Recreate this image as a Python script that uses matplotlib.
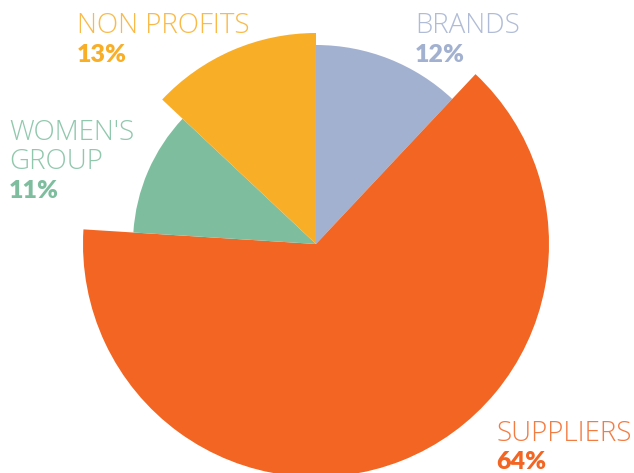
import matplotlib
matplotlib.use("Agg")
import matplotlib.pyplot as plt
import numpy as np

categories = ["BRANDS", "SUPPLIERS", "WOMEN'S\nGROUP", "NON PROFITS"]
shares = [12, 64, 11, 13]
pct_labels = ["12%", "64%", "11%", "13%"]
radii = [199, 233, 183, 211]
colors = ["#A3B1D0", "#F26522", "#7EBE9F", "#F9AE28"]

W, H = 634, 473
fig = plt.figure(figsize=(W / 100, H / 100), dpi=100)
cx, cy = 316, 244
R = 250
ax = fig.add_axes([(cx - R) / W, (H - cy - R) / H, 2 * R / W, 2 * R / H], projection="polar")
ax.set_theta_zero_location("N")
ax.set_theta_direction(-1)

shares_arr = np.array(shares, dtype=float)
widths = shares_arr / shares_arr.sum() * 2 * np.pi
starts = np.concatenate([[0], np.cumsum(widths)[:-1]])
bars = ax.bar(starts, radii, width=widths, align="edge", color=colors, linewidth=0)
for b in bars:
    b.set_clip_on(False)
ax.set_ylim(0, R)
ax.axis("off")

# label positions (pixels: x, baseline y of name, baseline y of percent)
label_pos = [(415, [33], 62), (496, [441], 469), (9, [140, 169], 198), (77, [33], 62)]
fam = ["Open Sans", "DejaVu Sans"]
for cat, pct, col, (x, ys, py) in zip(categories, pct_labels, colors, label_pos):
    for line, y in zip(cat.split("\n"), ys):
        fig.text(x / W, 1 - y / H, line, color=col, fontsize=20, family=fam,
                 fontweight="light", va="baseline", ha="left", alpha=0.85)
    fig.text(x / W, 1 - py / H, pct, color=col, fontsize=18, family=["Lato", "DejaVu Sans"],
             fontweight="heavy", va="baseline", ha="left")

fig.savefig("out.png", dpi=100)
